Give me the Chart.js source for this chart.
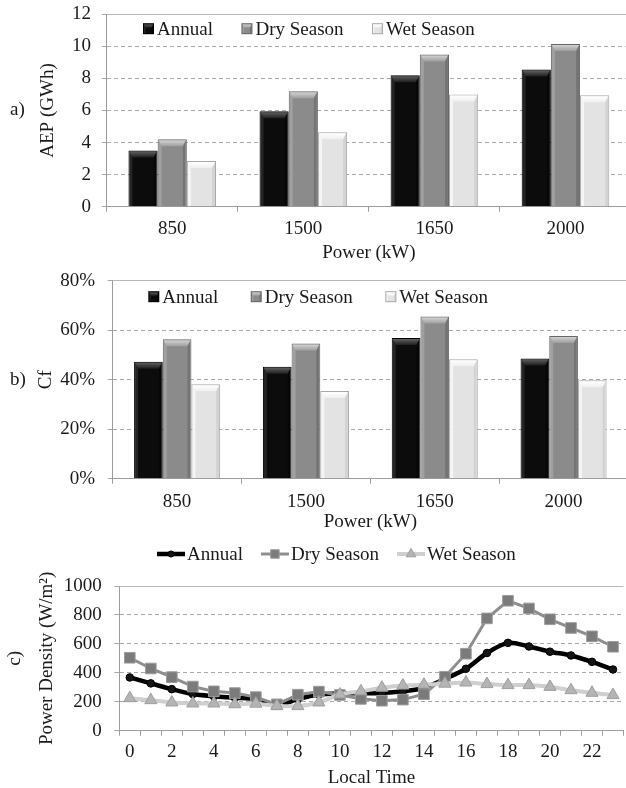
<!DOCTYPE html>
<html>
<head>
<meta charset="utf-8">
<script src="https://cdn.jsdelivr.net/npm/chart.js@4.4.1/dist/chart.umd.min.js"></script>
<style>
  html, body { margin: 0; padding: 0; background: #ffffff; }
  body { width: 626px; height: 788px; overflow: hidden; position: relative; }
  canvas { position: absolute; left: 0; }
</style>
</head>
<body>
<canvas id="aepChart" width="632" height="266" style="top:0px;width:632px;height:266px"></canvas>
<canvas id="cfChart" width="632" height="272" style="top:262px;width:632px;height:272px"></canvas>
<canvas id="pdChart" width="632" height="260" style="top:530px;width:632px;height:260px"></canvas>
<script>
// ---- data ----
const turbineRatings = ['850', '1500', '1650', '2000'];
const seriesNames = ['Annual', 'Dry Season', 'Wet Season'];

// annual energy production, GWh
const aepAnnual = [3.5, 5.95, 8.2, 8.55];
const aepDry    = [4.2, 7.2, 9.5, 10.15];
const aepWet    = [2.85, 4.65, 7.0, 6.95];

// capacity factor, %
const cfAnnual = [47.3, 45.2, 56.8, 48.6];
const cfDry    = [56.3, 54.6, 65.5, 57.7];
const cfWet    = [38.2, 35.4, 48.3, 39.8];

// hourly wind power density, W/m²
const hours = ['0','1','2','3','4','5','6','7','8','9','10','11','12','13','14','15','16','17','18','19','20','21','22','23'];
const pdAnnual = [368, 327, 287, 253, 238, 228, 217, 178, 218, 250, 258, 258, 260, 272, 296, 358, 428, 537, 607, 582, 546, 520, 476, 423];
const pdDry    = [504, 430, 370, 305, 272, 260, 232, 182, 249, 270, 247, 220, 207, 215, 252, 373, 532, 776, 898, 845, 770, 710, 652, 580];
const pdWet    = [225, 211, 195, 188, 188, 183, 187, 172, 170, 195, 250, 272, 297, 312, 318, 325, 333, 322, 315, 315, 303, 280, 262, 246];

// ---- look ----
const FONT_FAMILY = '"Liberation Serif", "Times New Roman", serif';
const FONT_SIZE = 19;
const TEXT = '#1a1a1a';
const GRID = '#a9a9a9';
const AXIS = '#9c9c9c';

Chart.defaults.font.family = FONT_FAMILY;
Chart.defaults.font.size = FONT_SIZE;
Chart.defaults.color = TEXT;

const barLook = [
  { body: '#0c0c0c', edge: '#000000', topHi: '#5e5e5e', topLo: '#1e1e1e', leftTint: 'rgba(255,255,255,0.10)', rightTint: 'rgba(0,0,0,0.35)' },
  { body: '#8b8b8b', edge: '#666666', topHi: '#d2d2d2', topLo: '#9e9e9e', leftTint: 'rgba(255,255,255,0.18)', rightTint: 'rgba(0,0,0,0.16)' },
  { body: '#e3e3e3', edge: '#a8a8a8', topHi: '#ffffff', topLo: '#efefef', leftTint: 'rgba(255,255,255,0.65)', rightTint: 'rgba(0,0,0,0.07)' }
];

function paintBevel(ctx, l, t, r, b, look, bh, s) {
  if (r - l <= 0 || b - t <= 0) return;
  ctx.save();
  ctx.beginPath();
  ctx.rect(l, t, r - l, b - t);
  ctx.clip();
  ctx.fillStyle = look.leftTint;
  ctx.fillRect(l, t, s, b - t);
  ctx.fillStyle = look.rightTint;
  ctx.fillRect(r - s, t, s, b - t);
  const g = ctx.createLinearGradient(0, t, 0, t + bh);
  g.addColorStop(0, look.topHi);
  g.addColorStop(1, look.topLo);
  ctx.fillStyle = g;
  ctx.beginPath();
  ctx.moveTo(l, t);
  ctx.lineTo(r, t);
  ctx.lineTo(r - s, t + bh);
  ctx.lineTo(l + s, t + bh);
  ctx.closePath();
  ctx.fill();
  ctx.restore();
}

function drawBarSwatch(ctx, x, y, look) {
  const size = 11;
  const top = y - size / 2;
  ctx.fillStyle = look.edge;
  ctx.fillRect(x, top, size, size);
  ctx.fillStyle = look.body;
  ctx.fillRect(x + 1, top + 1, size - 2, size - 2);
  paintBevel(ctx, x + 1, top + 1, x + size - 1, top + size - 1, look, 3.5, 1.5);
}

function drawLineSwatch(ctx, x, y, ds) {
  const len = 28;
  ctx.save();
  ctx.strokeStyle = ds.borderColor;
  ctx.lineWidth = ds.borderWidth;
  ctx.beginPath();
  ctx.moveTo(x, y);
  ctx.lineTo(x + len, y);
  ctx.stroke();
  ctx.fillStyle = ds.pointBackgroundColor;
  ctx.strokeStyle = ds.pointBorderColor;
  ctx.lineWidth = ds.pointBorderWidth;
  Chart.helpers.drawPoint(ctx, { pointStyle: ds.pointStyle, radius: ds.pointRadius * 0.8, rotation: 0, borderWidth: ds.pointBorderWidth }, x + len / 2, y);
  ctx.restore();
}

// panel letter, in-plot key, solid top rule and bar shading
const panelDecor = {
  id: 'panelDecor',
  beforeDatasetsDraw(chart, args, opts) {
    const { ctx, chartArea } = chart;
    const y = Math.round(chartArea.top - 0.5) + 0.5;
    ctx.save();
    ctx.strokeStyle = '#b8b8b8';
    ctx.lineWidth = 1;
    ctx.beginPath();
    ctx.moveTo(chartArea.left, y);
    ctx.lineTo(chartArea.right, y);
    ctx.stroke();
    ctx.restore();
  },
  afterDatasetsDraw(chart, args, opts) {
    if (opts.kind !== 'bar') return;
    const ctx = chart.ctx;
    chart.data.datasets.forEach((ds, di) => {
      const meta = chart.getDatasetMeta(di);
      const look = barLook[di];
      meta.data.forEach(el => {
        const p = el.getProps(['x', 'y', 'base', 'width'], true);
        const l = p.x - p.width / 2 + 1;
        const r = p.x + p.width / 2 - 1;
        paintBevel(ctx, l, p.y + 1, r, p.base, look, 6, 3);
      });
    });
  },
  afterDraw(chart, args, opts) {
    const { ctx, chartArea } = chart;
    ctx.save();
    ctx.font = FONT_SIZE + 'px ' + FONT_FAMILY;
    ctx.textBaseline = 'middle';
    // key
    let x = chartArea.left + opts.dx;
    const y = chartArea.top + opts.dy;
    chart.data.datasets.forEach((ds, di) => {
      if (opts.kind === 'bar') {
        drawBarSwatch(ctx, x, y, barLook[di]);
        x += 11 + 3;
      } else {
        drawLineSwatch(ctx, x, y, ds);
        x += 28 + 2;
      }
      ctx.fillStyle = TEXT;
      ctx.textAlign = 'left';
      ctx.fillText(ds.label, x, y + 1);
      x += ctx.measureText(ds.label).width + opts.spacing;
    });
    // panel letter
    const midY = (chartArea.top + chartArea.bottom) / 2;
    ctx.fillStyle = TEXT;
    ctx.textAlign = 'center';
    if (opts.tagRotated) {
      ctx.translate(opts.tagX, midY);
      ctx.rotate(-Math.PI / 2);
      ctx.fillText(opts.tag, 0, 0);
    } else {
      ctx.fillText(opts.tag, opts.tagX, midY);
    }
    ctx.restore();
  }
};

function fixWidth(w) {
  return scale => {
    scale.width = w;
    scale.paddingTop = 0; scale.paddingBottom = 0;
    scale.paddingLeft = 0; scale.paddingRight = 0;
  };
}
function fixHeight(h) {
  return scale => {
    scale.height = h;
    scale.paddingTop = 0; scale.paddingBottom = 0;
    scale.paddingLeft = 0; scale.paddingRight = 0;
  };
}

function barDatasets(values) {
  return values.map((vals, i) => ({
    label: seriesNames[i],
    data: vals,
    backgroundColor: barLook[i].body,
    borderColor: barLook[i].edge,
    borderWidth: 1,
    categoryPercentage: 0.668,
    barPercentage: 1.0
  }));
}

function yAxis(min, max, step, width, titleText, titlePadTop, tickPad, fmt) {
  return {
    min: min, max: max,
    ticks: { stepSize: step, padding: tickPad, color: TEXT, callback: fmt || (v => v) },
    grid: { color: GRID, lineWidth: 1, drawTicks: true, tickLength: 5, tickColor: GRID },
    border: { display: true, color: AXIS, width: 1, dash: [4, 3] },
    title: { display: true, text: titleText, color: TEXT, padding: { top: titlePadTop, bottom: 0 } },
    afterFit: fixWidth(width)
  };
}

function xAxis(height, titleText, tickPad, titlePadBottom, tickCb) {
  return {
    offset: true,
    ticks: { padding: tickPad, color: TEXT, autoSkip: false, maxRotation: 0, callback: tickCb },
    grid: { offset: true, drawOnChartArea: false, drawTicks: true, tickLength: 5, tickColor: AXIS, color: AXIS },
    border: { display: true, color: AXIS, width: 1 },
    title: { display: true, text: titleText, color: TEXT, padding: { top: 0, bottom: titlePadBottom } },
    afterFit: fixHeight(height)
  };
}

const common = {
  responsive: false,
  animation: false,
  events: [],
  devicePixelRatio: 1
};

// a) annual energy production
new Chart(document.getElementById('aepChart'), {
  type: 'bar',
  data: { labels: turbineRatings, datasets: barDatasets([aepAnnual, aepDry, aepWet]) },
  options: Object.assign({}, common, {
    layout: { padding: { top: 14.3, left: 30, right: 1, bottom: 0 } },
    plugins: {
      legend: { display: false }, tooltip: { enabled: false },
      panelDecor: { kind: 'bar', dx: 36.3, dy: 14.4, spacing: 28.5, tag: 'a)', tagX: 17.5 }
    },
    scales: {
      x: xAxis(59.3, 'Power (kW)', 6, 1.6, function (v) { return this.getLabelForValue(v); }),
      y: yAxis(0, 12, 2, 76.7, 'AEP (GWh)', 6.6, 10.7)
    }
  }),
  plugins: [panelDecor]
});

// b) capacity factor
new Chart(document.getElementById('cfChart'), {
  type: 'bar',
  data: { labels: turbineRatings, datasets: barDatasets([cfAnnual, cfDry, cfWet]) },
  options: Object.assign({}, common, {
    layout: { padding: { top: 18.7, left: 30, right: 4, bottom: 0 } },
    plugins: {
      legend: { display: false }, tooltip: { enabled: false },
      panelDecor: { kind: 'bar', dx: 35.6, dy: 16, spacing: 32.5, tag: 'b)', tagX: 18 }
    },
    scales: {
      x: xAxis(55.3, 'Power (kW)', 6.6, 0.6, function (v) { return this.getLabelForValue(v); }),
      y: yAxis(0, 80, 20, 82.7, 'Cf', 4.6, 12.7, v => v + '%')
    }
  }),
  plugins: [panelDecor]
});

// c) hourly power density
new Chart(document.getElementById('pdChart'), {
  type: 'line',
  data: {
    labels: hours,
    datasets: [
      { label: seriesNames[0], data: pdAnnual, borderColor: '#000000', borderWidth: 4.5,
        pointStyle: 'circle', pointRadius: 3.8, pointBackgroundColor: '#151515', pointBorderColor: '#000000', pointBorderWidth: 1,
        tension: 0.3, order: 2 },
      { label: seriesNames[1], data: pdDry, borderColor: '#8e8e8e', borderWidth: 3,
        pointStyle: 'rect', pointRadius: 7.5, pointBackgroundColor: '#7b7b7b', pointBorderColor: '#9c9c9c', pointBorderWidth: 1,
        tension: 0, order: 1 },
      { label: seriesNames[2], data: pdWet, borderColor: '#cfcfcf', borderWidth: 4,
        pointStyle: 'triangle', pointRadius: 7, pointBackgroundColor: '#b4b4b4', pointBorderColor: '#9e9e9e', pointBorderWidth: 1,
        tension: 0.3, order: 0 }
    ]
  },
  options: Object.assign({}, common, {
    layout: { padding: { top: 56, left: 30, right: 4, bottom: 0 } },
    plugins: {
      legend: { display: false }, tooltip: { enabled: false },
      panelDecor: { kind: 'line', dx: 37.7, dy: -32, spacing: 18, tag: 'c)', tagX: 15.5, tagRotated: true }
    },
    scales: {
      x: xAxis(59.3, 'Local Time', 4.6, 0.6, function (v, i) { return i % 2 === 0 ? this.getLabelForValue(v) : ''; }),
      y: yAxis(0, 1000, 200, 89.3, 'Power Density (W/m²)', 5.3, 12.6)
    }
  }),
  plugins: [panelDecor]
});
</script>
</body>
</html>
